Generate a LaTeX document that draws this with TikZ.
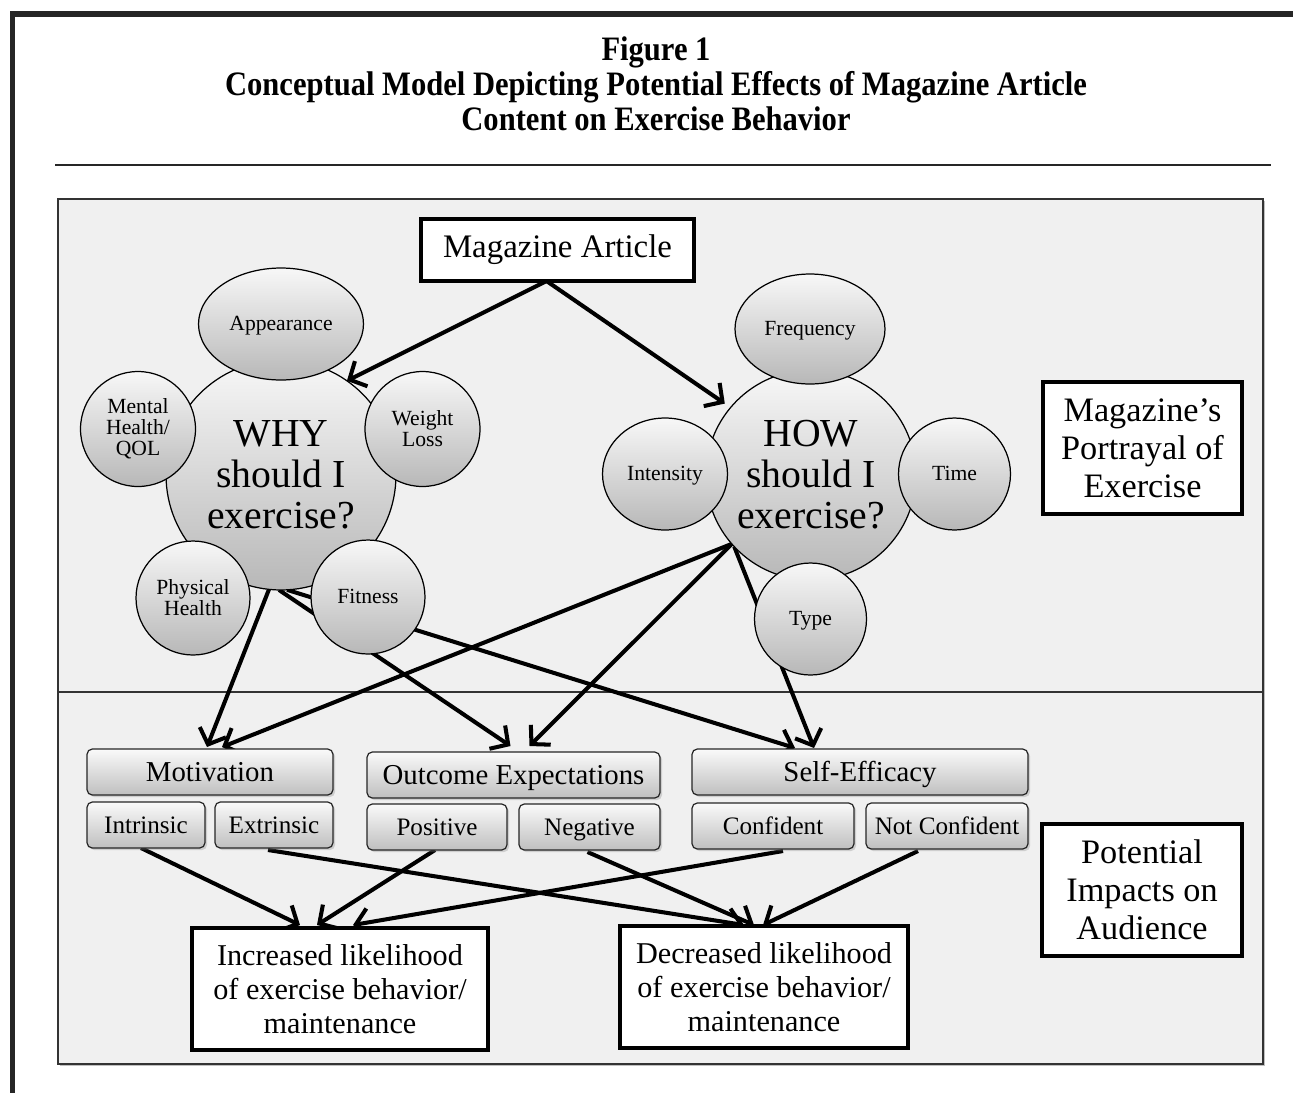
\documentclass[tikz,border=0pt]{standalone}
\usepackage{fontspec}
\setmainfont{Liberation Serif}
\usetikzlibrary{arrows.meta,shadows,calc,shapes.geometric}
\pgfdeclarelayer{back}
\pgfdeclarelayer{mid}
\pgfsetlayers{back,mid,main}
\begin{document}
\begin{tikzpicture}[x=0.02cm,y=-0.02cm,
  bub/.style={draw=black, line width=0.7pt, top color=black!3, bottom color=black!28,
    inner sep=0pt, outer sep=0pt, align=center, font=\fontsize{12.3}{12}\selectfont},
  one/.style={text height=9.6pt, text depth=2.5pt},
  circ/.style={bub, circle, minimum size=#1},
  ell/.style 2 args={bub, ellipse, minimum width=#1, minimum height=#2},
  bigtxt/.style={font=\fontsize{22.6}{23.4}\selectfont},
  rbox/.style={draw=black!85, line width=0.7pt, rounded corners=3pt,
    top color=black!2, bottom color=black!25,
    drop shadow={opacity=0.3, shadow xshift=1.2pt, shadow yshift=-1.2pt},
    inner sep=0pt, outer sep=0pt},
  hdr/.style={rbox, minimum height=0.92cm, font=\fontsize{16.4}{18}\selectfont, text height=13.6pt, text depth=3.3pt},
  sub/.style={rbox, minimum height=0.92cm, font=\fontsize{14.3}{16}\selectfont, text height=12pt, text depth=2.9pt},
  tbox/.style={draw=black, line width=2.3pt, fill=white, inner sep=0pt, outer sep=0pt, align=center},
  arr/.style={line width=2.3pt, -{Straight Barb[length=7.5pt,width=16pt]}},
  ttl/.style={anchor=base, font=\bfseries\fontsize{17.4}{20}\selectfont}
]
\useasboundingbox (0,0) rectangle (1293,1093);

% outer frame and title
\fill[black!85] (10,11) rectangle (1293,17);
\fill[black!85] (10,11) rectangle (15,1093);
\node[ttl] (t1) at (656,60) {\scalebox{1}[1.12]{Figure 1}};
\node[ttl] (t2) at (656,95) {\scalebox{1}[1.12]{Conceptual Model Depicting Potential Effects of Magazine Article}};
\node[ttl] (t3) at (656,130) {\scalebox{1}[1.12]{Content on Exercise Behavior}};
\draw[line width=1.4pt, black!85] (55,165) -- (1271,165);

% panel
\begin{pgfonlayer}{back}
\fill[black!25] (60,201) rectangle (1265,1066);
\filldraw[fill=black!6, draw=black!80, line width=0.6pt] (58,199) rectangle (1263,1064);
\draw[black!80, line width=0.6pt] (58,692) -- (1263,692);
\end{pgfonlayer}

% top part nodes
\node[tbox, minimum width=5.46cm, minimum height=1.24cm, font=\fontsize{18.7}{20}\selectfont] (mag) at (557.5,250) {Magazine Article};

\node[circ=4.6cm, bigtxt] (why) at (281,475) {WHY\\should I\\exercise?};
\node[ell={3.3cm}{2.24cm}, one] (app) at (281,324) {Appearance};
\node[circ=2.3cm] (ment) at (138,429) {Mental\\Health/\\QOL};
\node[circ=2.3cm] (wl) at (422.5,429) {Weight\\Loss};
\node[circ=2.28cm] (phys) at (193,598) {Physical\\Health};
\node[circ=2.28cm, one] (fit) at (368,597) {Fitness};

\node[circ=4.2cm, bigtxt] (how) at (811,475) {HOW\\should I\\exercise?};
\node[ell={3.0cm}{2.2cm}, one] (freq) at (810,329) {Frequency};
\node[ell={2.5cm}{2.24cm}, one] (inten) at (665,474) {Intensity};
\node[circ=2.24cm, one] (time) at (954.5,474) {Time};
\node[circ=2.24cm, one] (type) at (810.5,619) {Type};

\node[tbox, minimum width=3.98cm, minimum height=2.64cm, font=\fontsize{19.5}{21.6}\selectfont] (portr) at (1142.5,448) {Magazine's\\Portrayal of\\Exercise};

% bottom part nodes
\node[hdr, minimum width=4.92cm] (motiv) at (210,772) {Motivation};
\node[sub, minimum width=2.36cm] (intr) at (146,825) {Intrinsic};
\node[sub, minimum width=2.36cm] (extr) at (274,825) {Extrinsic};
\node[hdr, minimum width=5.86cm] (outc) at (513.5,775) {Outcome Expectations};
\node[sub, minimum width=2.8cm] (posi) at (437,827) {Positive};
\node[sub, minimum width=2.82cm] (nega) at (589.5,827) {Negative};
\node[hdr, minimum width=6.72cm] (selfe) at (860,772) {Self-Efficacy};
\node[sub, minimum width=3.24cm] (conf) at (773,826) {Confident};
\node[sub, minimum width=3.24cm] (notc) at (947,826) {Not Confident};

\node[tbox, minimum width=4.0cm, minimum height=2.64cm, font=\fontsize{19.5}{21.6}\selectfont] (pot) at (1142,890) {Potential\\Impacts on\\Audience};
\node[tbox, minimum width=5.92cm, minimum height=2.44cm, font=\fontsize{17.2}{19.2}\selectfont] (incr) at (340,989) {Increased likelihood\\of exercise behavior/\\maintenance};
\node[tbox, minimum width=5.76cm, minimum height=2.44cm, font=\fontsize{17.2}{19.2}\selectfont] (decr) at (764,987) {Decreased likelihood\\of exercise behavior/\\maintenance};

% connectors
\begin{pgfonlayer}{mid}
\draw[arr] ($(mag.south)+(-11,0)$) -- (why.55);
\draw[arr, shorten >=4pt] ($(mag.south)+(-11,0)$) -- (how.140);

\draw[arr] (why.-96) -- ($(motiv.north)+(-3,-2)$);
\draw[arr] (why.-91) -- ($(outc.north)+(-3,-6)$);
\draw[arr] (why.-87) -- ($(selfe.north)+(-65,-1)$);
\draw[arr] (how.-139) -- ($(motiv.north)+(12,-2)$);
\draw[arr] (how.-139) -- ($(outc.north)+(16,-6)$);
\draw[arr] (how.-137) -- ($(selfe.north)+(-46,-1)$);

\draw[arr] ($(intr.south)+(-5,0)$) -- ($(incr.north)+(-40,-3)$);
\draw[arr] ($(posi.south)+(-2,0)$) -- ($(incr.north)+(-23,-3)$);
\draw[arr] ($(conf.south)+(10,2)$) -- ($(incr.north)+(13,-3)$);
\draw[arr] ($(extr.south)+(-6,2)$) -- ($(decr.north)+(-20,-1)$);
\draw[arr] ($(nega.south)+(-2,2)$) -- ($(decr.north)+(-10,-1)$);
\draw[arr] ($(notc.south)+(-29,2)$) -- ($(decr.north)+(-1,-1)$);
\end{pgfonlayer}
\end{tikzpicture}
\end{document}
